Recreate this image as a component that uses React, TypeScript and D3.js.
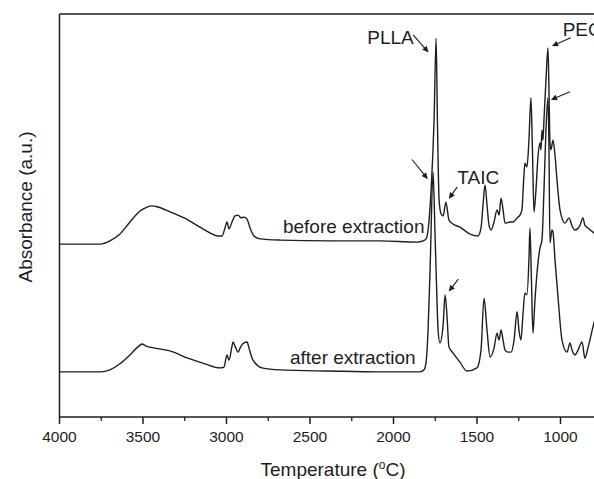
import React from "react";
import * as d3 from "d3";

// ---- data (wavenumber cm^-1, absorbance a.u.) ----
const beforeWn = [4000, 3877, 3757, 3698, 3638, 3578, 3518, 3476, 3446, 3410, 3338, 3231, 3159, 3099, 3051, 3027, 3009, 2997, 2985, 2967, 2949, 2931, 2913, 2895, 2877, 2859, 2835, 2799, 2680, 2380, 2081, 1859, 1823, 1805, 1793, 1775, 1757, 1745, 1737, 1727, 1715, 1703, 1686, 1668, 1644, 1602, 1542, 1494, 1476, 1464, 1452, 1440, 1428, 1416, 1398, 1380, 1368, 1356, 1344, 1332, 1302, 1284, 1260, 1243, 1231, 1219, 1213, 1201, 1189, 1177, 1168, 1159, 1147, 1135, 1123, 1117, 1111, 1105, 1099, 1087, 1075, 1069, 1063, 1057, 1045, 1033, 1021, 1003, 973, 949, 931, 913, 883, 866, 854, 836, 800, 764];
const beforeAbs = [42.9, 42.9, 42.9, 43.7, 45.4, 48.4, 51.1, 52.1, 52.4, 52.1, 50.9, 48.9, 47.1, 45.7, 44.9, 44.9, 46.9, 48.4, 46.7, 48.4, 49.9, 50.1, 49.4, 49.6, 49.1, 46.9, 44.9, 44.2, 43.9, 43.7, 43.7, 43.4, 43.7, 44.2, 46.4, 56.3, 73.7, 94.0, 73.7, 53.8, 50.4, 49.9, 53.3, 48.9, 47.9, 47.1, 45.4, 44.9, 46.9, 52.6, 57.6, 52.6, 47.6, 46.4, 48.4, 51.4, 50.1, 54.3, 51.4, 48.1, 48.4, 48.4, 49.4, 50.1, 51.4, 60.0, 63.0, 62.0, 68.7, 79.2, 66.3, 50.9, 56.3, 64.5, 68.0, 66.3, 71.2, 68.7, 73.7, 83.6, 91.6, 81.1, 68.0, 66.3, 68.7, 65.0, 58.8, 51.4, 48.1, 49.4, 47.4, 46.4, 47.6, 49.4, 47.6, 46.9, 45.7, 44.9];

const afterWn = [4000, 3757, 3698, 3638, 3578, 3530, 3506, 3482, 3428, 3338, 3231, 3129, 3039, 3015, 2997, 2985, 2967, 2961, 2949, 2931, 2913, 2895, 2877, 2865, 2847, 2829, 2787, 2680, 2380, 2081, 1841, 1817, 1805, 1793, 1781, 1763, 1752, 1745, 1733, 1722, 1703, 1691, 1680, 1668, 1644, 1602, 1560, 1500, 1476, 1458, 1440, 1422, 1398, 1380, 1368, 1356, 1344, 1332, 1314, 1296, 1278, 1260, 1249, 1237, 1225, 1213, 1201, 1189, 1183, 1174, 1165, 1153, 1135, 1123, 1111, 1099, 1087, 1075, 1069, 1063, 1051, 1045, 1033, 1015, 991, 961, 943, 931, 913, 895, 871, 854, 836, 824, 800, 764];
const afterAbs = [11.2, 11.2, 11.7, 13.2, 15.4, 17.4, 18.1, 17.6, 17.1, 16.4, 14.6, 13.2, 12.2, 12.4, 15.4, 14.1, 17.6, 18.6, 17.6, 16.1, 17.6, 18.4, 18.6, 17.1, 14.6, 13.4, 12.2, 11.7, 11.4, 11.2, 11.2, 11.7, 13.6, 21.6, 36.5, 60.8, 46.4, 36.5, 21.6, 18.4, 22.8, 30.3, 25.3, 17.4, 15.9, 13.6, 11.4, 12.2, 16.6, 29.5, 21.6, 14.9, 17.1, 20.8, 19.1, 21.6, 19.1, 16.6, 16.1, 16.1, 19.1, 26.1, 21.6, 19.1, 25.3, 30.8, 30.3, 39.0, 46.9, 34.0, 20.8, 29.0, 38.2, 41.9, 43.9, 56.3, 71.2, 79.2, 66.3, 43.2, 46.4, 45.9, 39.0, 29.8, 19.1, 16.1, 18.4, 16.6, 15.4, 16.6, 18.6, 14.6, 17.1, 19.1, 23.3, 27.8];

const xTicks = [4000, 3500, 3000, 2500, 2000, 1500, 1000];
const xMinorTicks = [3750, 3250, 2750, 2250, 1750, 1250, 750];

// text labels: [text, wavenumber, absorbance]
const labelTexts = ["PLLA", "PEG", "TAIC", "before extraction", "after extraction"];
const labelWn = [2157, 987, 1618, 2662, 2620];
const labelAbs = [92.5, 94.6, 57.8, 45.7, 13.2];

// arrows: from (wn1, a1) to (wn2, a2)
const arrowFromWn = [1883, 939, 943, 1889, 1618, 1612];
const arrowFromAbs = [94.8, 94.1, 80.7, 63.9, 57.1, 34.2];
const arrowToWn = [1793, 1047, 1053, 1798, 1666, 1666];
const arrowToAbs = [90.6, 92.1, 78.8, 59.2, 54.3, 31.3];

const W = 594;
const H = 479;
const FONT = "'Liberation Sans', Arial, Helvetica, sans-serif";
const INK = "#1e1e1e";

export default function App() {
  const x = d3.scaleLinear().domain([4000, 1000]).range([59.5, 560.5]);
  const y = d3.scaleLinear().domain([0, 100]).range([417, 14]);
  const left = x(4000);
  const bottom = y(0);
  const top = y(100);

  const line = d3
    .line<[number, number]>()
    .x((d) => x(d[0]))
    .y((d) => y(d[1]))
    .curve(d3.curveMonotoneX);

  const before = beforeWn.map((w, i) => [w, beforeAbs[i]] as [number, number]);
  const after = afterWn.map((w, i) => [w, afterAbs[i]] as [number, number]);

  return (
    <svg
      width={W}
      height={H}
      style={{ position: "absolute", left: 0, top: 0, background: "#fff" }}
      fontFamily={FONT}
    >
      <defs>
        <marker
          id="ah"
          viewBox="0 0 10 10"
          refX="9"
          refY="5"
          markerWidth="7"
          markerHeight="6"
          markerUnits="userSpaceOnUse"
          orient="auto"
        >
          <path d="M0,0 L10,5 L0,10 z" fill={INK} />
        </marker>
      </defs>

      <path d={line(before) || ""} fill="none" stroke={INK} strokeWidth={1.4} strokeLinejoin="round" />
      <path d={line(after) || ""} fill="none" stroke={INK} strokeWidth={1.4} strokeLinejoin="round" />

      {/* frame */}
      <line x1={left} x2={W} y1={top} y2={top} stroke={INK} strokeWidth={1.5} />
      <line x1={left} x2={left} y1={top} y2={bottom} stroke={INK} strokeWidth={1.5} />
      <line x1={left} x2={W} y1={bottom} y2={bottom} stroke={INK} strokeWidth={1.6} />

      {xTicks.map((t) => (
        <g key={"t" + t}>
          <line x1={x(t)} x2={x(t)} y1={bottom} y2={bottom + 7} stroke={INK} strokeWidth={1.5} />
          <text x={x(t)} y={bottom + 25} textAnchor="middle" fontSize={15.5} fill={INK}>
            {t}
          </text>
        </g>
      ))}
      {xMinorTicks.map((t) => (
        <line key={"m" + t} x1={x(t)} x2={x(t)} y1={bottom} y2={bottom + 4} stroke={INK} strokeWidth={1.3} />
      ))}

      <text x={333} y={476} textAnchor="middle" fontSize={19} fill={INK}>
        Temperature (
        <tspan fontSize={12} dy={-7}>o</tspan>
        <tspan dy={7}>C)</tspan>
      </text>
      <text
        transform="translate(32,207) rotate(-90)"
        textAnchor="middle"
        fontSize={19}
        fill={INK}
      >
        Absorbance (a.u.)
      </text>

      {labelTexts.map((t, i) => (
        <text key={t} x={x(labelWn[i])} y={y(labelAbs[i])} fontSize={19} fill={INK}>
          {t}
        </text>
      ))}

      {arrowFromWn.map((w, i) => (
        <line
          key={"a" + i}
          x1={x(w)}
          y1={y(arrowFromAbs[i])}
          x2={x(arrowToWn[i])}
          y2={y(arrowToAbs[i])}
          stroke={INK}
          strokeWidth={1.1}
          markerEnd="url(#ah)"
        />
      ))}
    </svg>
  );
}
